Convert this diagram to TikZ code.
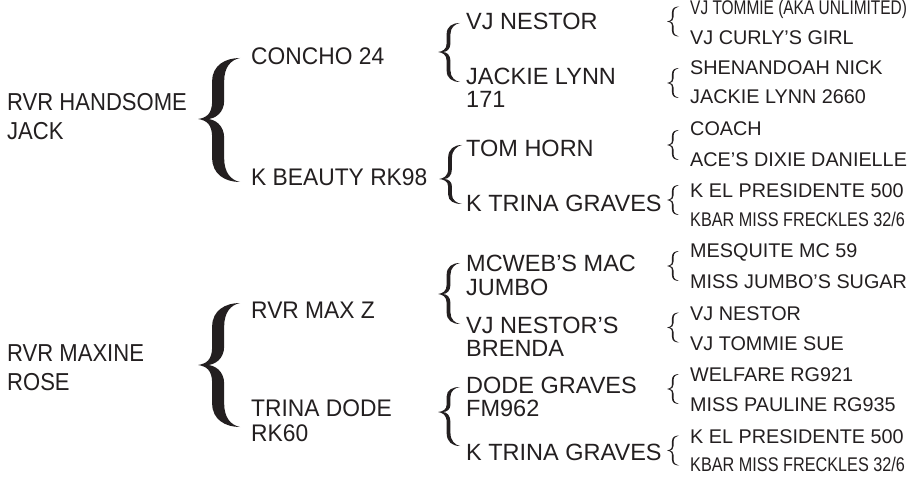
\documentclass[tikz,border=0pt]{standalone}
\usepackage{fontspec}
\setmainfont{Liberation Sans}
\newfontfamily\genafont[FakeStretch=0.9]{Liberation Sans}
\newfontfamily\genbfont[FakeStretch=0.95]{Liberation Sans}
\newfontfamily\tightfont[FakeStretch=0.78]{Liberation Sans}
\newfontfamily\narrowfont[FakeStretch=0.82]{Liberation Sans}
\usetikzlibrary{positioning}

% brace: tip x, top y, tip y, bottom y, width, half thickness
\newcommand{\pedbrace}[6]{%
  \pgfmathsetmacro{\bl}{#1+0.48*#5-#6}%
  \pgfmathsetmacro{\br}{#1+0.48*#5+#6}%
  \pgfmathsetmacro{\bu}{#2-#3}%
  \pgfmathsetmacro{\bd}{#4-#3}%
  \fill[pedink] ({#1+#5},{#2})
    .. controls ({#1+0.65*#5},{#2}) and (\bl,{#3+0.88*\bu}) .. (\bl,{#3+0.62*\bu})
    -- (\bl,{#3+0.3*\bu})
    .. controls (\bl,{#3+0.08*\bu}) and ({#1+0.2*#5},{#3+0.02*\bu}) .. ({#1},{#3})
    .. controls ({#1+0.2*#5},{#3+0.02*\bd}) and (\bl,{#3+0.08*\bd}) .. (\bl,{#3+0.3*\bd})
    -- (\bl,{#3+0.62*\bd})
    .. controls (\bl,{#3+0.88*\bd}) and ({#1+0.65*#5},{#4}) .. ({#1+#5},{#4})
    .. controls ({#1+0.78*#5},{#3+0.97*\bd}) and (\br,{#3+0.85*\bd}) .. (\br,{#3+0.62*\bd})
    -- (\br,{#3+0.3*\bd})
    .. controls (\br,{#3+0.1*\bd}) and ({#1+0.4*#5},{#3}) .. ({#1+0.22*#5},{#3})
    .. controls ({#1+0.4*#5},{#3}) and (\br,{#3+0.1*\bu}) .. (\br,{#3+0.3*\bu})
    -- (\br,{#3+0.62*\bu})
    .. controls (\br,{#3+0.85*\bu}) and ({#1+0.78*#5},{#3+0.97*\bu}) .. ({#1+#5},{#2})
    -- cycle;}

\definecolor{pedink}{RGB}{35,31,32}

\tikzset{
  horse/.style={anchor=base west, inner sep=0pt, align=left, text=pedink},
  gen1/.style={horse, font=\genafont\fontsize{24.5}{29}\selectfont},
  gen2/.style={horse, font=\genbfont\fontsize{24}{25}\selectfont},
  gen3/.style={horse, font=\fontsize{23.5}{23.5}\selectfont},
  gen4/.style={horse, font=\fontsize{19.8}{20}\selectfont}
}

\begin{document}
\begin{tikzpicture}[x=1pt,y=-1pt]
  \useasboundingbox (0,0) rectangle (915,486);
  %First generation (two-line names sit on their last line)
  \node[gen1] (jack) at (7,140) {RVR HANDSOME\\JACK};
  \node[gen1] (maxine) at (7,390) {RVR MAXINE\\ROSE};
  %Second generation
  \node[gen2] (concho) at (251,65) {CONCHO 24};
  \node[gen2] (beauty) at (251,185.5) {K BEAUTY RK98};
  \node[gen2] (maxz) at (251,318) {RVR MAX Z};
  \node[gen2] (trinadode) at (251,441.5) {TRINA DODE\\RK60};
  %Third generation
  \node[gen3] (nestor) at (466,30) {VJ NESTOR};
  \node[gen3] (jackie) at (466,108) {JACKIE LYNN\\171};
  \node[gen3] (tomhorn) at (466,156.5) {TOM HORN};
  \node[gen3] (ktrina) at (466,211.5) {K TRINA GRAVES};
  \node[gen3] (mcweb) at (466,295) {MCWEB’S MAC\\JUMBO};
  \node[gen3] (brenda) at (466,356.5) {VJ NESTOR’S\\BRENDA};
  \node[gen3] (dode) at (466,416.5) {DODE GRAVES\\FM962};
  \node[gen3] (ktrinab) at (466,460) {K TRINA GRAVES};
  %Fourth generation
  \node[gen4] (tommie) at (690,15) {\tightfont VJ TOMMIE (AKA UNLIMITED)};
  \node[gen4] (curly) at (690,45) {VJ CURLY’S GIRL};
  \node[gen4] (shenandoah) at (690,75) {SHENANDOAH NICK};
  \node[gen4] (jackie2660) at (690,103.5) {JACKIE LYNN 2660};
  \node[gen4] (coach) at (690,135.5) {COACH};
  \node[gen4] (dixie) at (690,166.5) {ACE’S DIXIE DANIELLE};
  \node[gen4] (presidente) at (690,198) {K EL PRESIDENTE 500};
  \node[gen4] (kbar) at (690,227) {\narrowfont KBAR MISS FRECKLES 32/6};
  \node[gen4] (mesquite) at (690,258) {MESQUITE MC 59};
  \node[gen4] (sugar) at (690,288) {MISS JUMBO’S SUGAR};
  \node[gen4] (nestorb) at (690,320) {VJ NESTOR};
  \node[gen4] (tommiesue) at (690,350) {VJ TOMMIE SUE};
  \node[gen4] (welfare) at (690,381.5) {WELFARE RG921};
  \node[gen4] (pauline) at (690,411.5) {MISS PAULINE RG935};
  \node[gen4] (presidenteb) at (690,443) {K EL PRESIDENTE 500};
  \node[gen4] (kbarb) at (690,471.5) {\narrowfont KBAR MISS FRECKLES 32/6};
  %Braces
  \pedbrace{198}{58}{119}{182}{42}{6}
  \pedbrace{198}{303}{365}{427}{42}{6}
  \pedbrace{438}{23}{52}{82}{22}{1.9}
  \pedbrace{439}{145}{179}{204}{23}{1.9}
  \pedbrace{438}{263}{294}{324}{22}{1.9}
  \pedbrace{438}{387}{412}{446}{22}{1.9}
  \foreach \c in {21.5,83,145,200,266,327.5,389,450.5}
    {\pedbrace{667}{\c-15}{\c}{\c+15}{12}{0.8}}
\end{tikzpicture}
\end{document}
